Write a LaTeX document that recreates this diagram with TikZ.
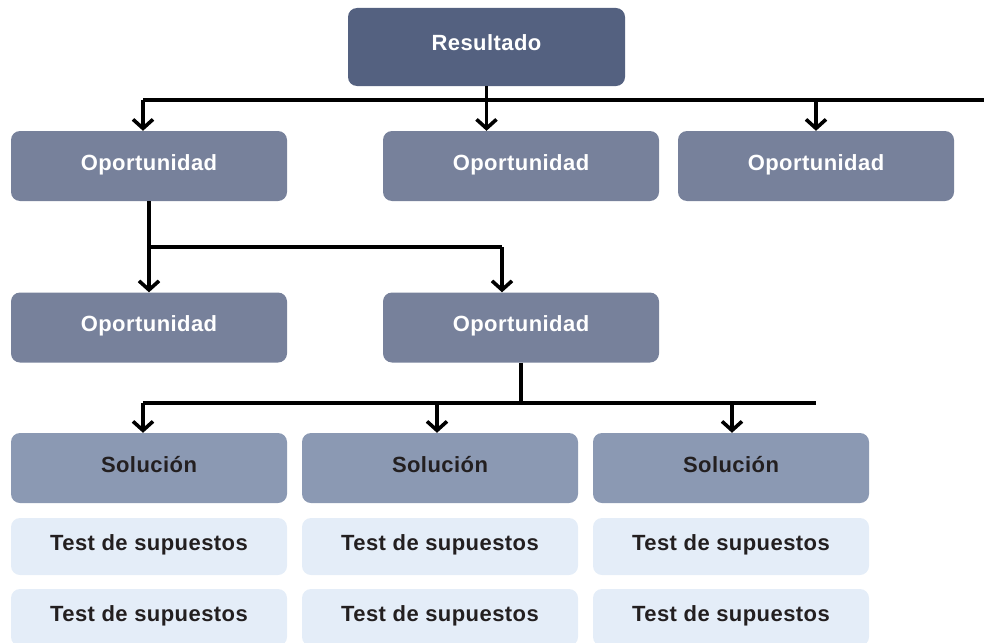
\documentclass[tikz,border=0pt]{standalone}
\usepackage{xcolor}
\usepackage{tikz}
\usepackage{fontspec}
\setmainfont{Liberation Sans}[LetterSpace=2]
\usetikzlibrary{arrows.meta}

\definecolor{resfill}{RGB}{84,97,128}
\definecolor{opfill}{RGB}{119,129,155}
\definecolor{solfill}{RGB}{139,153,179}
\definecolor{testfill}{RGB}{228,237,248}
\definecolor{darktext}{RGB}{35,31,32}

\tikzset{
    card/.style={rectangle, rounded corners=9pt, minimum width=276pt, inner sep=0pt,
        font=\fontsize{22}{26}\selectfont\bfseries, text height=16pt, text depth=8pt},
    result/.style={card, fill=resfill, text=white, minimum width=277pt, minimum height=78pt},
    chance/.style={card, fill=opfill, text=white, minimum height=70pt},
    fix/.style={card, fill=solfill, text=darktext, minimum height=70pt},
    check/.style={card, fill=testfill, text=darktext, minimum height=57pt},
    wire/.style={line width=3.6pt},
    feed/.style={wire, -{Straight Barb[length=9pt, width=20pt]}}
}

\begin{document}
\begin{tikzpicture}[x=1pt, y=-1pt]
    \useasboundingbox (0,0) rectangle (984,642);

    \node (res) at (486.5, 47) [result] {Resultado};

    \node (op1) at (149, 166) [chance] {Oportunidad};
    \node (op2) at (521, 166) [chance] {Oportunidad};
    \node (op3) at (816, 166) [chance] {Oportunidad};

    \node (op4) at (149, 327.5) [chance] {Oportunidad};
    \node (op5) at (521, 327.5) [chance] {Oportunidad};

    \node (sol1) at (149, 468) [fix] {Solución};
    \node (sol2) at (440, 468) [fix] {Solución};
    \node (sol3) at (731, 468) [fix] {Solución};

    \node (ta1) at (149, 546.5) [check] {Test de supuestos};
    \node (ta2) at (440, 546.5) [check] {Test de supuestos};
    \node (ta3) at (731, 546.5) [check] {Test de supuestos};

    \node (tb1) at (149, 617.5) [check] {Test de supuestos};
    \node (tb2) at (440, 617.5) [check] {Test de supuestos};
    \node (tb3) at (731, 617.5) [check] {Test de supuestos};

    % top level
    \coordinate (topL) at (143, 100);
    \coordinate (topR) at (984, 100);
    \draw[wire] (topL) -- (topR);
    \draw[wire] (res.south) -- (res.south |- topL);
    \draw[feed] (topL) -- (op1.north -| topL);
    \draw[feed] (res.south |- topL) -- (op2.north -| res.south);
    \draw[feed] (op3.north |- topL) -- (op3.north);

    % second level
    \coordinate (midL) at (149, 247);
    \coordinate (midR) at (502, 247);
    \draw[feed] (op1.south) -- (op4.north);
    \draw[wire] (midL) -- (midR);
    \draw[feed] (midR) -- (op5.north -| midR);

    % solutions
    \coordinate (lowL) at (143, 403);
    \coordinate (lowR) at (816, 403);
    \draw[wire] (lowL) -- (lowR);
    \draw[wire] (op5.south) -- (op5.south |- lowL);
    \draw[feed] (lowL) -- (sol1.north -| lowL);
    \draw[feed] (437, 403) -- (sol2.north -| 437, 403);
    \draw[feed] (732, 403) -- (sol3.north -| 732, 403);
\end{tikzpicture}
\end{document}
